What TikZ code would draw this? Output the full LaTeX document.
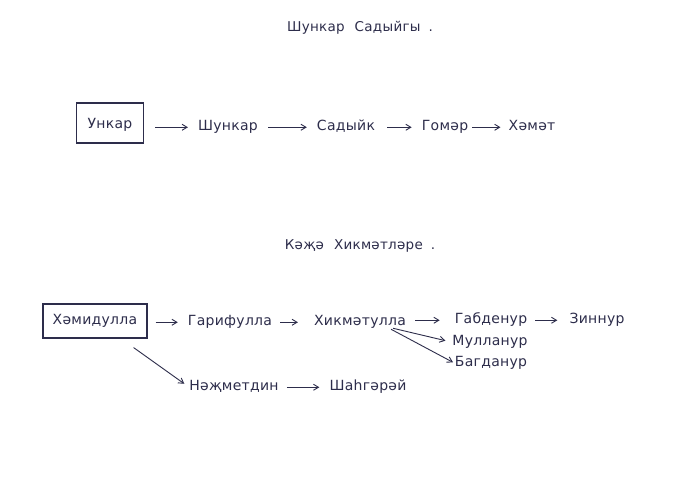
\documentclass[tikz,border=0pt]{standalone}
\usepackage{fontspec}
\setmainfont{DejaVu Sans}[LetterSpace=2]
\usetikzlibrary{arrows.meta}
\definecolor{ink}{RGB}{45,45,75}
\begin{document}
\begin{tikzpicture}[x=1pt,y=-1pt,
  every node/.style={text=ink,font=\fontsize{14}{16}\selectfont,inner sep=0pt},
  lbl/.style={anchor=base},
  boxed/.style={draw=ink,line width=1.1pt,minimum width=#1,inner sep=0pt},
  title/.style={anchor=base,font=\fontsize{13.5}{16}\selectfont},
  link/.style={draw=ink,line width=0.9pt,-{Straight Barb[length=5pt,width=6pt]}},
  gap/.style={shorten <=10pt,shorten >=10pt}]
\useasboundingbox[fill=white] (0,0) rectangle (700,495);

\node[title] (t1) at (360,32) {Шункар\hspace{10pt}Садыйгы\hspace{8pt}.};
\node[title] (t2) at (360,249) {Кәҗә\hspace{10pt}Хикмәтләре\hspace{8pt}.};

% row 1
\node[boxed=67pt,minimum height=40pt,text depth=-8pt] (unkar) at (110,123) {Ункар};
\node[lbl] (shunkar) at (228,130) {Шункар};
\node[lbl] (sadyik) at (346,130) {Садыйк};
\node[lbl] (gomer) at (445,130) {Гомәр};
\node[lbl] (hemet) at (532,130) {Хәмәт};

\draw[link,shorten <=11pt,shorten >=10pt] (unkar.east |- shunkar.mid west) -- (shunkar.mid west);
\draw[link,gap] (shunkar.mid east) -- (sadyik.mid west);
\draw[link,shorten <=12pt,shorten >=10pt] (sadyik.mid east) -- (gomer.mid west);
\draw[link,shorten <=4pt,shorten >=8pt] (gomer.mid east) -- (hemet.mid west);

% row 2
\node[boxed=104pt,minimum height=34pt] (hamid) at (95,321) {Хәмидулла};
\node[lbl] (garif) at (230,325) {Гарифулла};
\node[lbl] (hikmet) at (360,325) {Хикмәтулла};
\node[lbl] (gabden) at (491,323) {Габденур};
\node[lbl] (zinnur) at (597,323) {Зиннур};
\node[lbl] (mullan) at (490,345) {Мулланур};
\node[lbl] (bagdan) at (491,366) {Багданур};
\node[lbl] (najm) at (234,390) {Нәҗметдин};
\node[lbl] (shah) at (368,390) {Шаһгәрәй};

\draw[link,shorten <=8pt,shorten >=10pt] (hamid.east |- garif.mid west) -- (garif.mid west);
\draw[link,shorten <=8pt,shorten >=16pt] (garif.mid east) -- (hikmet.mid west);
\draw[link,shorten <=9pt,shorten >=15pt] (hikmet.mid east |- gabden.mid west) -- (gabden.mid west);
\draw[link,shorten <=8pt,shorten >=12pt] (gabden.mid east) -- (zinnur.mid west);
\draw[link,shorten >=7pt] ([shift={(-13,6)}]hikmet.mid east) -- (mullan.mid west);
\draw[link,shorten >=2pt] ([shift={(-15,7)}]hikmet.mid east) -- (bagdan.mid west);
\draw[link,shorten >=6pt] ([shift={(-14,9)}]hamid.south east) -- (najm.mid west);
\draw[link,shorten <=8pt,shorten >=10pt] (najm.mid east) -- (shah.mid west);
\end{tikzpicture}
\end{document}
